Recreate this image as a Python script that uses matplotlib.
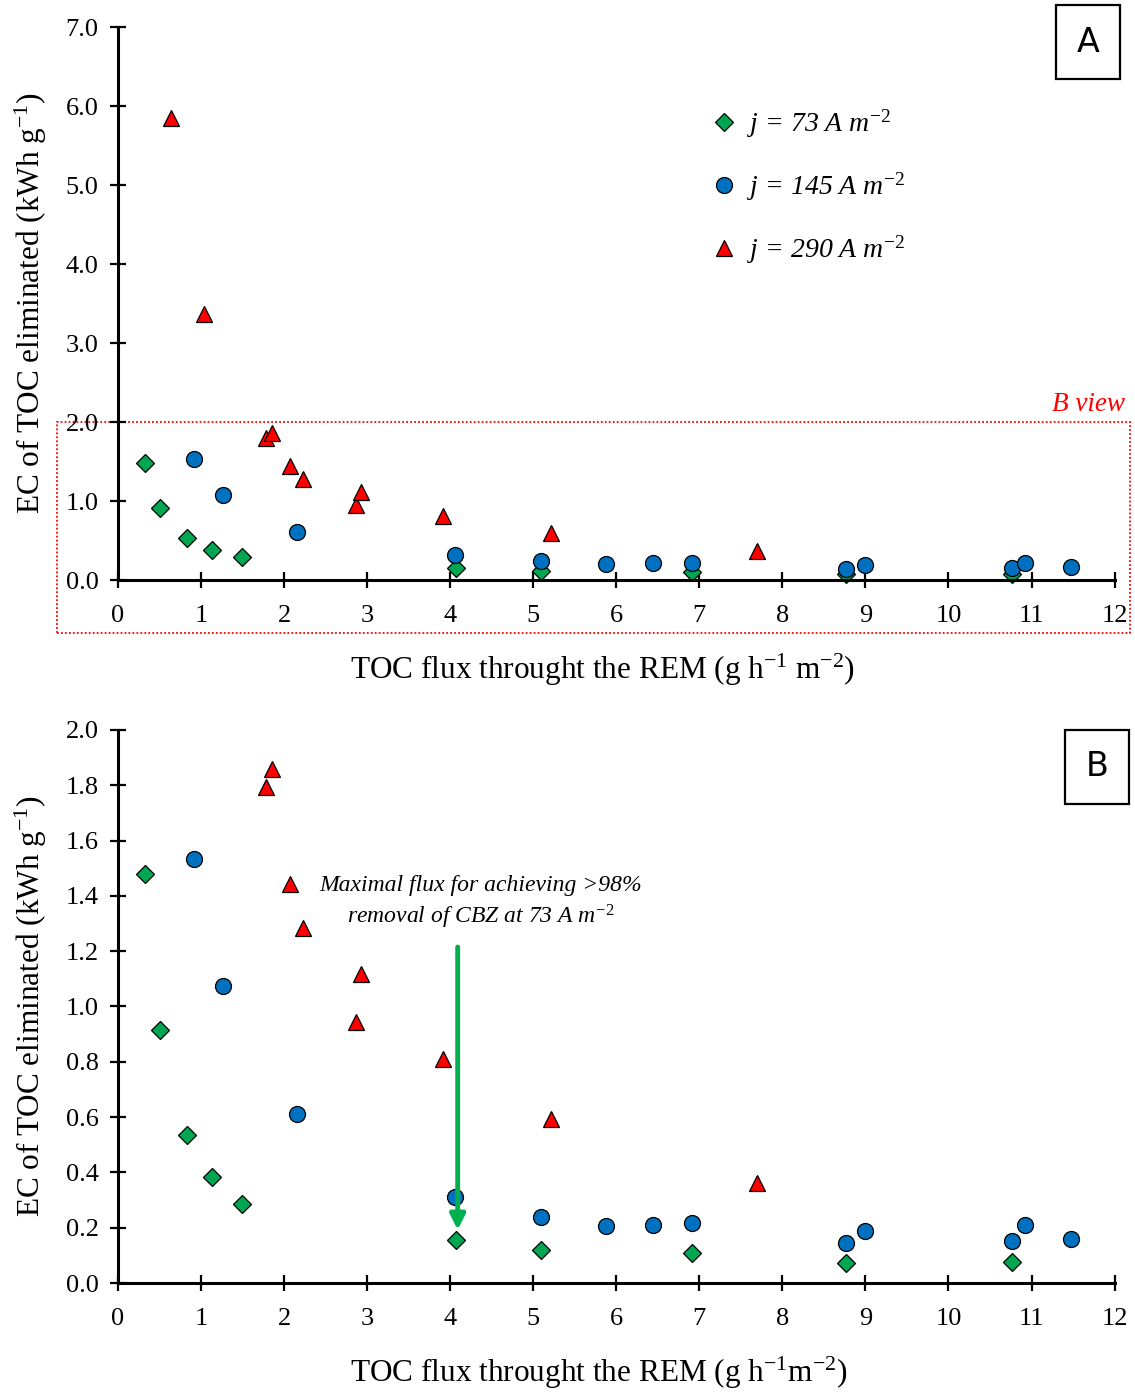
import matplotlib

matplotlib.use("Agg")

import matplotlib.pyplot as plt
from matplotlib.patches import Rectangle
from matplotlib.ticker import FormatStrFormatter

# data (TOC flux, g h-1 m-2 ; EC, kWh g-1)
x_73 = [0.33, 0.51, 0.83, 1.13, 1.49, 4.07, 5.09, 6.91, 8.76, 10.76]
y_73 = [1.48, 0.915, 0.535, 0.383, 0.286, 0.156, 0.119, 0.108, 0.072, 0.076]

x_145 = [0.92, 1.26, 2.15, 4.06, 5.09, 5.87, 6.44, 6.91, 8.76, 9.0, 10.76, 10.92, 11.47]
y_145 = [1.533, 1.074, 0.611, 0.311, 0.239, 0.206, 0.21, 0.217, 0.145, 0.188, 0.152, 0.21, 0.159]

x_290 = [0.64, 1.04, 1.78, 1.85, 2.07, 2.23, 2.86, 2.92, 3.91, 5.21, 7.69]
y_290 = [5.85, 3.37, 1.794, 1.859, 1.443, 1.284, 0.944, 1.118, 0.81, 0.593, 0.362]

labels = ["$j$ = 73 A $m^{\\mathrm{-2}}$", "$j$ = 145 A $m^{\\mathrm{-2}}$", "$j$ = 290 A $m^{\\mathrm{-2}}$"]

plt.rcParams["font.family"] = "Liberation Serif"
plt.rcParams["mathtext.fontset"] = "custom"
plt.rcParams["mathtext.rm"] = "Liberation Serif"
plt.rcParams["mathtext.it"] = "Liberation Serif:italic"

GREEN = "#00A651"
BLUE = "#0070C0"
RED = "#FF0000"

fig = plt.figure(figsize=(11.35, 13.92), dpi=100)
ax_a = fig.add_axes([0.104, 0.5833, 0.878, 0.3973])
ax_b = fig.add_axes([0.104, 0.0783, 0.878, 0.3973])


def draw_series(ax):
    # low points sit on the x axis, so markers are not clipped there
    kw = dict(mec="black", mew=0.9, clip_on=False, ls="none")
    h1, = ax.plot(x_73, y_73, "D", ms=8.8, mfc=GREEN, **kw)
    h2, = ax.plot(x_145, y_145, "o", ms=11.5, mfc=BLUE, **kw)
    ymax = ax.get_ylim()[1]
    keep = [i for i, v in enumerate(y_290) if v <= ymax]
    h3, = ax.plot([x_290[i] for i in keep], [y_290[i] for i in keep], "^", ms=11.5, mfc=RED, **kw)
    return h1, h2, h3


def style_axes(ax, ymax, ystep):
    ax.set_xlim(0, 12)
    ax.set_ylim(0, ymax)
    ax.set_xticks(range(0, 13))
    n = int(round(ymax / ystep))
    ax.set_yticks([i * ystep for i in range(n + 1)])
    ax.yaxis.set_major_formatter(FormatStrFormatter("%.1f"))
    for s in ["top", "right"]:
        ax.spines[s].set_visible(False)
    for s in ["left", "bottom"]:
        ax.spines[s].set_linewidth(2.2)
    ax.tick_params(direction="inout", length=12, width=1.6, labelsize=19)
    ax.tick_params(axis="x", pad=12)
    ax.tick_params(axis="y", pad=8)
    ax.set_ylabel("EC of TOC eliminated (kWh g$^{\\mathrm{-1}}$)", fontsize=22.5, labelpad=12)


def panel_label(txt, x0, y0):
    fig.text(x0, y0, txt, fontsize=24, family="DejaVu Sans", ha="center", va="center",
             bbox=dict(boxstyle="square,pad=0.62", fc="white", ec="black", lw=1.6))


# panel A
style_axes(ax_a, 7.0, 1.0)
handles = draw_series(ax_a)
ax_a.set_xlabel("TOC flux throught the REM (g h$^{\\mathrm{-1}}$ m$^{\\mathrm{-2}}$)", fontsize=22.5, labelpad=18)
ax_a.xaxis.label.set_x(0.486)
leg = ax_a.legend(handles, labels, loc="upper left", bbox_to_anchor=(0.566, 0.9), frameon=False,
                  prop={"size": 20, "style": "italic"}, labelspacing=1.1, handletextpad=0.25,
                  handlelength=1.2)
ax_a.add_patch(Rectangle((-0.734, -0.67), 12.92, 2.67, fill=False, ec=RED, ls=(0, (1, 1.2)),
                         lw=1.3, clip_on=False))
ax_a.text(12.13, 2.06, "B view", color=RED, fontsize=19.5, style="italic", ha="right", va="bottom")
panel_label("A", 1088 / 1135, 1 - 42 / 1392)

# panel B
style_axes(ax_b, 2.0, 0.2)
draw_series(ax_b)
ax_b.set_xlabel("TOC flux throught the REM (g h$^{\\mathrm{-1}}$m$^{\\mathrm{-2}}$)", fontsize=22.5, labelpad=18)
ax_b.xaxis.label.set_x(0.482)
ax_b.text(4.37, 1.375, "Maximal flux for achieving >98%\nremoval of CBZ at 73 A $m^{\\mathrm{-2}}$",
          fontsize=17, style="italic", ha="center", va="center", linespacing=1.35)
ax_b.annotate("", xy=(4.09, 0.182), xytext=(4.09, 1.225),
              arrowprops=dict(arrowstyle="-|>,head_width=0.45,head_length=0.9", color="#00B050", lw=3.5))
panel_label("B", 1097 / 1135, 1 - 767 / 1392)

fig.savefig("out.png", dpi=100)
plt.close(fig)
